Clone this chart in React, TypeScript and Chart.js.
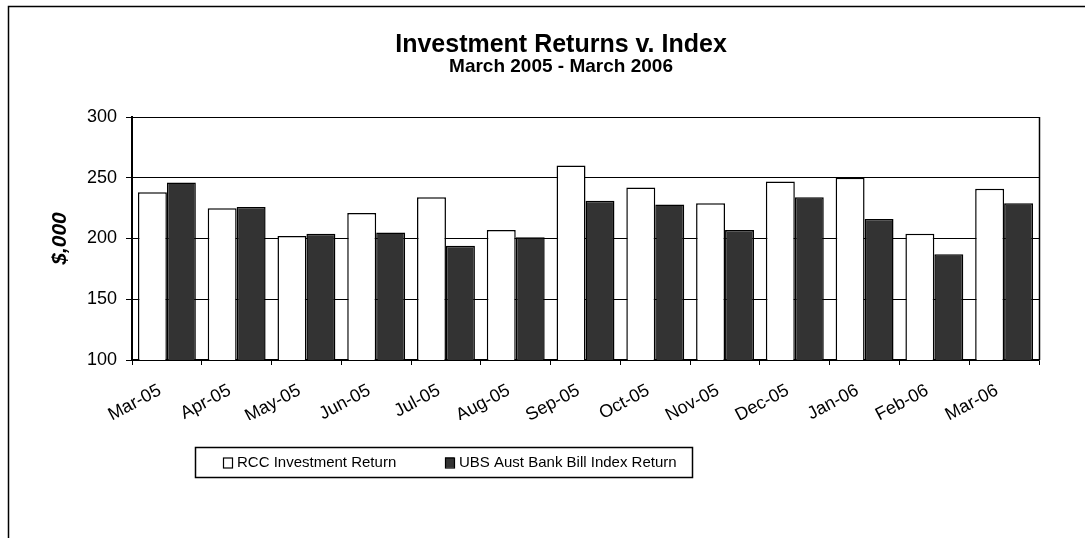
import React, { useEffect, useRef } from 'react';
import { Chart, registerables } from 'chart.js';

Chart.register(...registerables);

const categories = ['Mar-05', 'Apr-05', 'May-05', 'Jun-05', 'Jul-05', 'Aug-05', 'Sep-05', 'Oct-05', 'Nov-05', 'Dec-05', 'Jan-06', 'Feb-06', 'Mar-06'];
const rccReturn = [238, 225, 202, 221, 234, 207, 260, 242, 229, 247, 250, 204, 241];
const ubsIndexReturn = [246, 226, 204, 205, 194, 201, 231, 228, 207, 234, 216, 187, 229];
const seriesLabels = ['RCC Investment Return', 'UBS Aust Bank Bill Index Return'];
const seriesColors = ['#ffffff', '#333333'];
const yMin = 100;
const yMax = 300;
const yStep = 50;
const titleText = 'Investment Returns v. Index';
const subtitleText = 'March 2005 - March 2006';
const yAxisTitle = '$,000';

const FONT = "Arial, 'Liberation Sans', Helvetica, sans-serif";

const framePlugin = {
  id: 'frame',
  beforeDraw(chart: any) {
    const { ctx, width, height } = chart;
    ctx.save();
    ctx.fillStyle = '#ffffff';
    ctx.fillRect(0, 0, width, height);
    ctx.strokeStyle = '#000000';
    ctx.lineWidth = 1.5;
    ctx.strokeRect(8.5, 6.5, width + 50, height + 50);
    ctx.restore();
  },
  afterDatasetsDraw(chart: any) {
    const { ctx, chartArea } = chart;
    ctx.save();
    ctx.strokeStyle = '#000000';
    ctx.lineWidth = 1.5;
    ctx.beginPath();
    ctx.moveTo(Math.round(chartArea.right) + 0.5, chartArea.top);
    ctx.lineTo(Math.round(chartArea.right) + 0.5, chartArea.bottom);
    ctx.stroke();
    ctx.restore();
  },
};

const boxLegendPlugin = {
  id: 'boxLegend',
  afterDraw(chart: any) {
    const { ctx } = chart;
    const box = { x: 195, y: 447, w: 497, h: 30 };
    const itemX = [223, 445];
    ctx.save();
    ctx.fillStyle = '#ffffff';
    ctx.fillRect(box.x, box.y, box.w, box.h);
    ctx.strokeStyle = '#000000';
    ctx.lineWidth = 1.5;
    ctx.strokeRect(box.x + 0.5, box.y + 0.5, box.w, box.h);
    ctx.font = `15px ${FONT}`;
    ctx.textBaseline = 'middle';
    ctx.textAlign = 'left';
    const cy = box.y + box.h / 2 + 0.5;
    chart.data.datasets.forEach((ds: any, i: number) => {
      const x = itemX[i];
      ctx.fillStyle = ds.backgroundColor;
      ctx.fillRect(x, cy - 5, 9, 10);
      ctx.lineWidth = 1.2;
      ctx.strokeStyle = '#000000';
      ctx.strokeRect(x + 0.5, cy - 4.5, 9, 10);
      ctx.fillStyle = '#000000';
      ctx.fillText(ds.label, x + 14, cy);
    });
    ctx.restore();
  },
};

export default function App() {
  const canvasRef = useRef<HTMLCanvasElement | null>(null);

  useEffect(() => {
    if (!canvasRef.current) return;
    const chart = new Chart(canvasRef.current, {
      type: 'bar',
      data: {
        labels: categories,
        datasets: [
          {
            label: seriesLabels[0],
            data: rccReturn,
            backgroundColor: seriesColors[0],
            borderColor: '#000000',
            borderWidth: 1.5,
            categoryPercentage: 0.83,
            barPercentage: 1.0,
          },
          {
            label: seriesLabels[1],
            data: ubsIndexReturn,
            backgroundColor: seriesColors[1],
            borderColor: '#000000',
            borderWidth: 1.5,
            categoryPercentage: 0.83,
            barPercentage: 1.0,
          },
        ],
      },
      options: {
        responsive: false,
        animation: false,
        layout: { padding: { left: 83, right: 46, top: 0, bottom: 118 } },
        plugins: {
          legend: { display: false },
          tooltip: { enabled: false },
          title: {
            display: true,
            text: titleText,
            color: '#000000',
            font: { family: FONT, size: 25, weight: 'bold', lineHeight: 0.8 },
            padding: { top: 35, bottom: 0 },
          },
          subtitle: {
            display: true,
            text: subtitleText,
            color: '#000000',
            font: { family: FONT, size: 19, weight: 'bold', lineHeight: 0.8 },
            padding: { top: 4.5, bottom: 42.3 },
          },
        },
        scales: {
          x: {
            offset: true,
            grid: {
              display: true,
              drawOnChartArea: false,
              drawTicks: true,
              tickLength: 5,
              color: '#000000',
              lineWidth: 1,
              offset: true,
            },
            border: { display: true, color: '#000000', width: 1.5 },
            ticks: {
              color: '#000000',
              font: { family: FONT, size: 18 },
              minRotation: 28,
              maxRotation: 28,
              autoSkip: false,
              padding: 15,
              labelOffset: -7,
            },
            afterFit: (s: any) => {
              s.height = 60;
            },
          },
          y: {
            min: yMin,
            max: yMax,
            ticks: {
              stepSize: yStep,
              color: '#000000',
              font: { family: FONT, size: 18 },
              padding: 9,
            },
            grid: { color: '#000000', lineWidth: 1, tickLength: 6, drawTicks: true },
            border: { display: true, color: '#000000', width: 2 },
            title: {
              display: true,
              text: yAxisTitle,
              color: '#000000',
              font: { family: FONT, size: 21, weight: 'bold', style: 'italic' },
              padding: { top: -35.6, bottom: 0 },
            },
            afterFit: (s: any) => {
              s.width = 49;
            },
          },
        },
      } as any,
      plugins: [framePlugin, boxLegendPlugin],
    });
    return () => chart.destroy();
  }, []);

  return (
    <div style={{ position: 'absolute', left: 0, top: 0, width: 1085, height: 538 }}>
      <canvas ref={canvasRef} width={1085} height={538} style={{ display: 'block', width: 1085, height: 538 }} />
    </div>
  );
}
